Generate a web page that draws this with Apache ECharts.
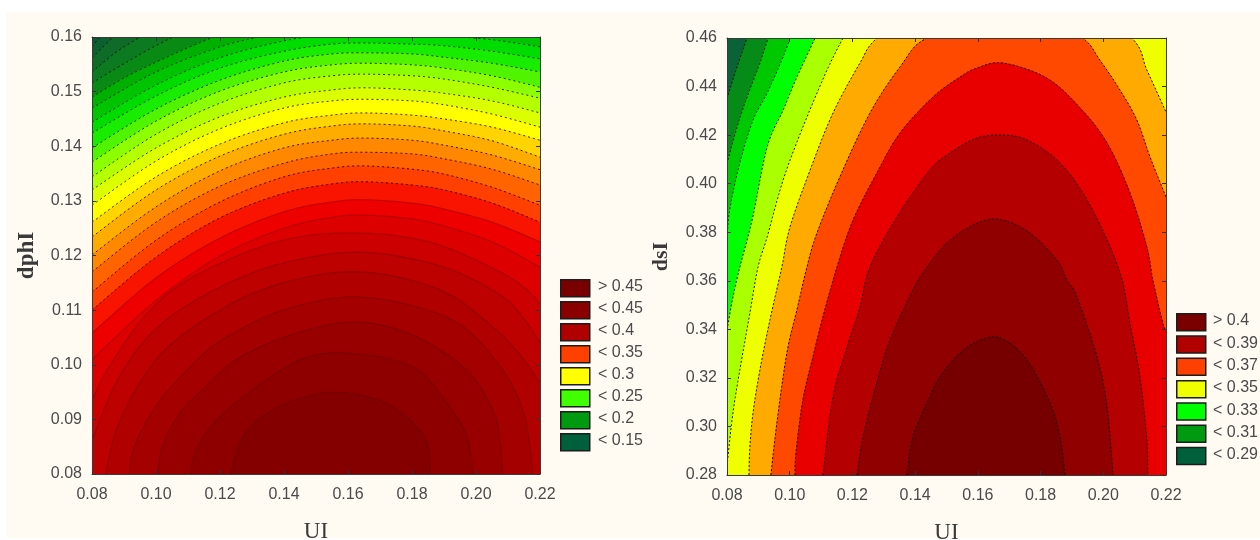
<!DOCTYPE html>
<html>
<head>
<meta charset="utf-8">
<style>
html,body{margin:0;padding:0;background:#fff;width:1260px;height:540px;overflow:hidden}
#paper{position:absolute;left:7px;top:12px;width:1253px;height:526px;background:#FFFBF2}
#main{position:absolute;left:0;top:0;width:1260px;height:540px}
</style>
<script src="https://cdn.jsdelivr.net/npm/echarts@6/dist/echarts.min.js"></script>
</head>
<body>
<div id="paper"></div>
<div id="main"></div>
<script>
// ---------- left panel: contour lines (UI, dphI) ----------
const dphiColumns = [0.08,0.10,0.12,0.14,0.155,0.165,0.18,0.19,0.205,0.22];
const dphiLine22 = [.1444,.1512,.1562,.1593,.1605,.1607,.1605,.1602,.1595,.1582];
const dphiLine21 = [.1424,.1492,.1543,.1574,.1587,.1589,.1587,.1584,.1574,.1560];
const dphiLine20 = [.1397,.1468,.1521,.1556,.1569,.1571,.1569,.1563,.1552,.1536];
const dphiLine19 = [.1371,.1446,.1501,.1536,.1549,.1552,.1549,.1543,.1529,.1508];
const dphiLine18 = [.1344,.1422,.1479,.1516,.1529,.1532,.1529,.1523,.1508,.1488];
const dphiLine17 = [.1320,.1397,.1454,.1490,.1503,.1507,.1503,.1497,.1483,.1461];
const dphiLine16 = [.1292,.1373,.1432,.1470,.1483,.1486,.1483,.1476,.1459,.1435];
const dphiLine15 = [.1261,.1344,.1404,.1443,.1457,.1461,.1457,.1450,.1435,.1411];
const dphiLine14 = [.1234,.1320,.1382,.1422,.1437,.1441,.1437,.1428,.1410,.1380];
const dphiLine13 = [.1201,.1289,.1355,.1397,.1411,.1415,.1411,.1402,.1384,.1357];
const dphiLine12 = [.1170,.1261,.1327,.1369,.1386,.1389,.1386,.1377,.1358,.1329];
const dphiLine11 = [.1133,.1228,.1298,.1344,.1360,.1364,.1358,.1349,.1325,.1292];
const dphiLine10 = [.1100,.1197,.1269,.1314,.1331,.1335,.1329,.1320,.1296,.1261];
const dphiLine09 = [.1058,.1159,.1232,.1280,.1298,.1302,.1296,.1285,.1261,.1225];
const dphiLine08 = [.1009,.1118,.1199,.1250,.1270,.1274,.1267,.1254,.1225,.1179];
const dphiLine28 = [[.08,.1582],[.0825,.16]];
const dphiLine27 = [[.08,.1562],[.0866,.16]];
const dphiLine26 = [[.08,.1536],[.0875,.1572],[.095,.16]];
const dphiLine25 = [[.08,.1516],[.0888,.1547],[.098,.1578],[.1053,.16]];
const dphiLine24 = [[.08,.1490],[.09,.1525],[.10,.1554],[.1106,.1582],[.118,.16],[.135,.164]];
const dphiLine23 = [[.08,.1470],[.10,.1536],[.12,.1582],[.1315,.16],[.145,.1625]];
const dphiLine07 = [[.08,.0935],[.0856,.0999],[.0981,.1100],[.1138,.1168],[.1397,.1228],[.1638,.1241],[.1866,.1223],[.2075,.1170],[.2153,.1140],[.22,.1113]];
const dphiLine06 = [[.08,.0862],[.0888,.0981],[.1013,.1073],[.12,.1142],[.1397,.1186],[.1638,.1206],[.1888,.1181],[.2075,.1128],[.2153,.1082],[.22,.1040]];
const dphiLine05 = [[.0841,.0796],[.0888,.0899],[.1013,.1018],[.12,.1100],[.1397,.1150],[.1638,.1170],[.1888,.1137],[.2053,.1069],[.2138,.1018],[.22,.0967]];
const dphiLine04 = [[.0916,.0796],[.0934,.0853],[.1013,.0935],[.1138,.1014],[.1222,.1051],[.1397,.1100],[.1638,.1124],[.1909,.1087],[.2053,.1014],[.2147,.0917],[.2178,.0796]];
const dphiLine03 = [[.1003,.0796],[.1022,.0853],[.1075,.0912],[.1153,.0959],[.1263,.1014],[.145,.1060],[.1638,.1078],[.1816,.1051],[.1972,.0990],[.2053,.0917],[.2075,.0862],[.2084,.0796]];
const dphiLine02 = [[.1106,.0796],[.1125,.0843],[.1175,.0889],[.1272,.0941],[.145,.1009],[.1606,.1021],[.1803,.0996],[.1909,.0930],[.1972,.0868],[.1991,.0796]];
const dphiLine01 = [[.1231,.0796],[.1272,.0868],[.1366,.0917],[.1522,.0948],[.1678,.0939],[.1784,.0904],[.1847,.0857],[.1856,.0796]];
const dphiOutsideColor = '#0a5634';
// band colour below each contour, outermost contour first
const dphiBandColors = ['#0c6030','#0e6c28','#0c7a20','#088a14','#00b000','#00c400','#00dc00','#18ec00',
  '#50f400','#8cff00','#b4ff00','#dcff00','#ffff00','#ffd400','#ffac00','#ff8800','#ff6400','#ff4000','#f81400',
  '#ee0000','#dc0000','#cc0000','#bd0000','#b00000','#a40000','#980000','#8e0000','#840000'];
const dphiLabels = ['> 0.45','< 0.45','< 0.4','< 0.35','< 0.3','< 0.25','< 0.2','< 0.15'];
const dphiLegendColors = ['#7a0000','#8a0000','#b00000','#ff4000','#ffff00','#40ff00','#009a10','#00603c'];

// ---------- right panel: contour lines (UI, dsI) ----------
const dsiLine01 = [[.0803,.4365],[.0832,.4481],[.0864,.46]];
const dsiLine02 = [[.0803,.4098],[.0832,.4233],[.0864,.4357],[.0905,.4497],[.0931,.46]];
const dsiLine03 = [[.08,.3780],[.081,.3904],[.0841,.4085],[.0883,.4262],[.0928,.4373],[.0979,.4522],[.1001,.46]];
const dsiLine04 = [[.08,.3397],[.0819,.3533],[.0841,.3657],[.088,.3850],[.0928,.4151],[.0979,.4303],[.1023,.4439],[.1081,.46]];
const dsiLine05 = [[.08,.2821],[.0803,.2874],[.0819,.3056],[.0841,.3233],[.0873,.3467],[.0899,.3657],[.0928,.3780],[.0979,.4015],[.1042,.4233],[.1119,.4468],[.1170,.46]];
const dsiLine06 = [[.0870,.28],[.0873,.2916],[.0883,.3056],[.0905,.3233],[.0937,.3439],[.0975,.3657],[.1001,.3822],[.1065,.4056],[.1138,.4291],[.1224,.4497],[.1278,.46],[.145,.478],[.165,.486],[.19,.478],[.2091,.46],[.2139,.4468],[.22,.4295]];
const dsiLine07 = [[.0940,.28],[.0959,.3014],[.0991,.3303],[.1023,.3480],[.1055,.3657],[.1087,.3797],[.1160,.4028],[.1256,.4291],[.1352,.4481],[.1438,.46],[.165,.4665],[.18,.4650],[.1932,.46],[.1989,.4509],[.2053,.4386],[.2107,.4262],[.2149,.4110],[.22,.3945]];
const dsiLine08 = [[.1017,.28],[.1020,.2891],[.1042,.3109],[.1074,.3286],[.1106,.3451],[.1151,.3657],[.1202,.3850],[.1278,.4044],[.1352,.4209],[.1457,.4357],[.1543,.4439],[.1597,.4476],[.1680,.4497],[.1820,.4435],[.1926,.4312],[.2012,.4168],[.2085,.3962],[.2139,.3739],[.2158,.3603],[.2190,.3426],[.22,.3397]];
const dsiLine09 = [[.1106,.28],[.1138,.3121],[.1183,.3327],[.1224,.3492],[.1256,.3657],[.1342,.3863],[.1447,.4056],[.1511,.4126],[.1597,.4188],[.1680,.4200],[.1757,.4180],[.1852,.4098],[.1935,.3962],[.2012,.3768],[.2060,.3603],[.2085,.3426],[.2117,.3204],[.2139,.2944],[.2142,.28]];
const dsiLine10 = [[.1215,.28],[.1234,.2957],[.1278,.3179],[.1320,.3356],[.1393,.3562],[.1438,.3657],[.1511,.3768],[.1607,.3842],[.1680,.3850],[.1766,.3797],[.1852,.3686],[.1884,.3603],[.1916,.3533],[.1980,.3286],[.2012,.3080],[.2031,.28]];
const dsiLine11 = [[.1374,.28],[.1393,.2957],[.1438,.3097],[.1479,.3204],[.1543,.3303],[.1616,.3360],[.1680,.3360],[.1757,.3274],[.1830,.3097],[.1862,.2957],[.1878,.28]];
const dsiOutsideColor = '#0a6238';
const dsiBandColors = ['#068a18','#00c800','#00ff00','#aaff00','#f0ff00','#ffaa00','#ff4800','#e80000','#b40000','#900000','#760000'];
const dsiLabels = ['> 0.4','< 0.39','< 0.37','< 0.35','< 0.33','< 0.31','< 0.29'];
const dsiLegendColors = ['#7a0000','#b00000','#ff4000','#f0ff00','#00ff00','#009a10','#00603c'];

const uiRange = [0.08, 0.22];
const dphiRange = [0.08, 0.16];
const dsiRange = [0.28, 0.46];

// ---------- assembling ----------
const zip = ys => ys.map((y, i) => [dphiColumns[i], y]);
const dphiLines = [dphiLine28,dphiLine27,dphiLine26,dphiLine25,dphiLine24,dphiLine23,
  zip(dphiLine22),zip(dphiLine21),zip(dphiLine20),zip(dphiLine19),zip(dphiLine18),zip(dphiLine17),
  zip(dphiLine16),zip(dphiLine15),zip(dphiLine14),zip(dphiLine13),zip(dphiLine12),zip(dphiLine11),
  zip(dphiLine10),zip(dphiLine09),zip(dphiLine08),
  dphiLine07,dphiLine06,dphiLine05,dphiLine04,dphiLine03,dphiLine02,dphiLine01];
const dsiLines = [dsiLine01,dsiLine02,dsiLine03,dsiLine04,dsiLine05,dsiLine06,dsiLine07,dsiLine08,dsiLine09,dsiLine10,dsiLine11];

// round the pixel polyline through the read points
function rounded(pts) {
  const out = [];
  for (let i = 0; i < pts.length - 1; i++) {
    const p0 = pts[Math.max(i - 1, 0)], p1 = pts[i], p2 = pts[i + 1], p3 = pts[Math.min(i + 2, pts.length - 1)];
    for (let s = 0; s < 8; s++) {
      const t = s / 8, t2 = t * t, t3 = t2 * t;
      out.push([0, 1].map(k => 0.5 * (2 * p1[k] + (p2[k] - p0[k]) * t + (2 * p0[k] - 5 * p1[k] + 4 * p2[k] - p3[k]) * t2 + (3 * p1[k] - p0[k] - 3 * p2[k] + p3[k]) * t3)));
    }
  }
  out.push(pts[pts.length - 1]);
  return out;
}

function bandSeries(lines, colors, outside, xi, yRange, strokeOf) {
  const pad = 0.03;
  const [xMin, xMax] = uiRange, [yMin, yMax] = yRange;
  return {
    type: 'custom', coordinateSystem: 'cartesian2d', xAxisIndex: xi, yAxisIndex: xi,
    clip: true, silent: true, animation: false, z: 2,
    data: [-1].concat(lines.map((_, i) => i)),
    encode: { x: -1, y: -1 },
    renderItem(params, api) {
      const idx = params.dataIndex - 1;
      if (idx < 0) {
        return { type: 'polygon', shape: { points: [[xMin, yMin], [xMax, yMin], [xMax, yMax], [xMin, yMax]].map(p => api.coord(p)) }, style: { fill: outside } };
      }
      const line = lines[idx];
      const curve = rounded(line.map(p => api.coord(p)));
      const last = line[line.length - 1];
      let tail = [];
      if (last[1] > yMin) tail = [[xMax + pad, yMax + pad], [xMax + pad, yMin - pad], [xMin - pad, yMin - pad]];
      const points = curve.concat(tail.map(p => api.coord(p)));
      return { type: 'group', children: [
        { type: 'polygon', shape: { points }, style: { fill: colors[idx], stroke: colors[idx], lineWidth: 0.5 } },
        { type: 'polyline', shape: { points: curve }, style: Object.assign({ fill: null }, strokeOf(idx)) }
      ] };
    }
  };
}

function axisPair(gridIndex, range, interval, position, name, nameGap, nameStyle, isX) {
  const base = {
    gridIndex, type: 'value', min: range[0], max: range[1], interval, z: 6, silent: true,
    axisLine: { show: true, onZero: false, lineStyle: { color: '#3a3a3a', width: 1 } },
    axisTick: { show: true, inside: true, length: 4, lineStyle: { color: '#333', width: 1 } },
    splitLine: { show: false }
  };
  const main = Object.assign({}, base, {
    position, name, nameLocation: 'middle', nameGap, nameTextStyle: nameStyle,
    axisLabel: { show: true, margin: isX ? 13 : 10, color: '#4a4a4a', fontFamily: 'Liberation Sans', fontSize: 16, formatter: v => v.toFixed(2), showMinLabel: true, showMaxLabel: true }
  });
  const mirror = Object.assign({}, base, {
    position: isX ? 'top' : 'right', axisLabel: { show: false }
  });
  return [main, mirror];
}

const titleStyle = { fontFamily: 'Liberation Serif', fontSize: 23, color: '#3a3a3a' };
const titleBold = { fontFamily: 'Liberation Serif', fontSize: 23, fontWeight: 'bold', color: '#3a3a3a' };
const titleBoldSmall = { fontFamily: 'Liberation Serif', fontSize: 22, fontWeight: 'bold', color: '#3a3a3a' };

const xLeft = axisPair(0, uiRange, 0.02, 'bottom', 'UI', 46, titleStyle, true);
const xRight = axisPair(1, uiRange, 0.02, 'bottom', 'UI', 46, titleStyle, true);
const yLeft = axisPair(0, dphiRange, 0.01, 'left', 'dphI', 53, titleBold, false);
const yRight = axisPair(1, dsiRange, 0.02, 'left', 'dsI', 55, titleBoldSmall, false);

function legendGraphics(labels, colors, left, top, step, textLeft) {
  const out = [];
  labels.forEach((label, i) => {
    out.push({ type: 'rect', left, top: top + i * step, shape: { x: 0, y: 0, width: 29, height: 17 },
      style: { fill: colors[i], stroke: '#1c1c1c', lineWidth: 1.5 }, silent: true, z: 10 });
    out.push({ type: 'text', left: textLeft, top: top + i * step, silent: true, z: 10,
      style: { text: label, fill: '#4a4a4a', font: '16px "Liberation Sans"' } });
  });
  return out;
}

const chart = echarts.init(document.getElementById('main'), null, { renderer: 'canvas' });
chart.setOption({
  animation: false,
  backgroundColor: 'transparent',
  grid: [
    { left: 92, top: 37, width: 448, height: 437, show: false, outerBoundsMode: 'none' },
    { left: 727, top: 38, width: 439, height: 437, show: false, outerBoundsMode: 'none' }
  ],
  xAxis: [xLeft[0], xRight[0], xLeft[1], xRight[1]],
  yAxis: [yLeft[0], yRight[0], yLeft[1], yRight[1]],
  series: [
    bandSeries(dphiLines, dphiBandColors, dphiOutsideColor, 0, dphiRange, idx => {
      // outer contours carry black dots, inner red rings a soft darker line
      if (idx <= 18) return { stroke: 'rgba(0,0,0,0.8)', lineWidth: 1, lineDash: [2, 3] };
      return { stroke: 'rgba(60,0,0,0.25)', lineWidth: 1.2 };
    }),
    bandSeries(dsiLines, dsiBandColors, dsiOutsideColor, 1, dsiRange, () => ({ stroke: 'rgba(0,0,0,0.9)', lineWidth: 1, lineDash: [2, 2] }))
  ],
  graphic: legendGraphics(dphiLabels, dphiLegendColors, 560, 279, 22, 598)
    .concat(legendGraphics(dsiLabels, dsiLegendColors, 1176, 313, 22.3, 1213))
});
</script>
</body>
</html>
